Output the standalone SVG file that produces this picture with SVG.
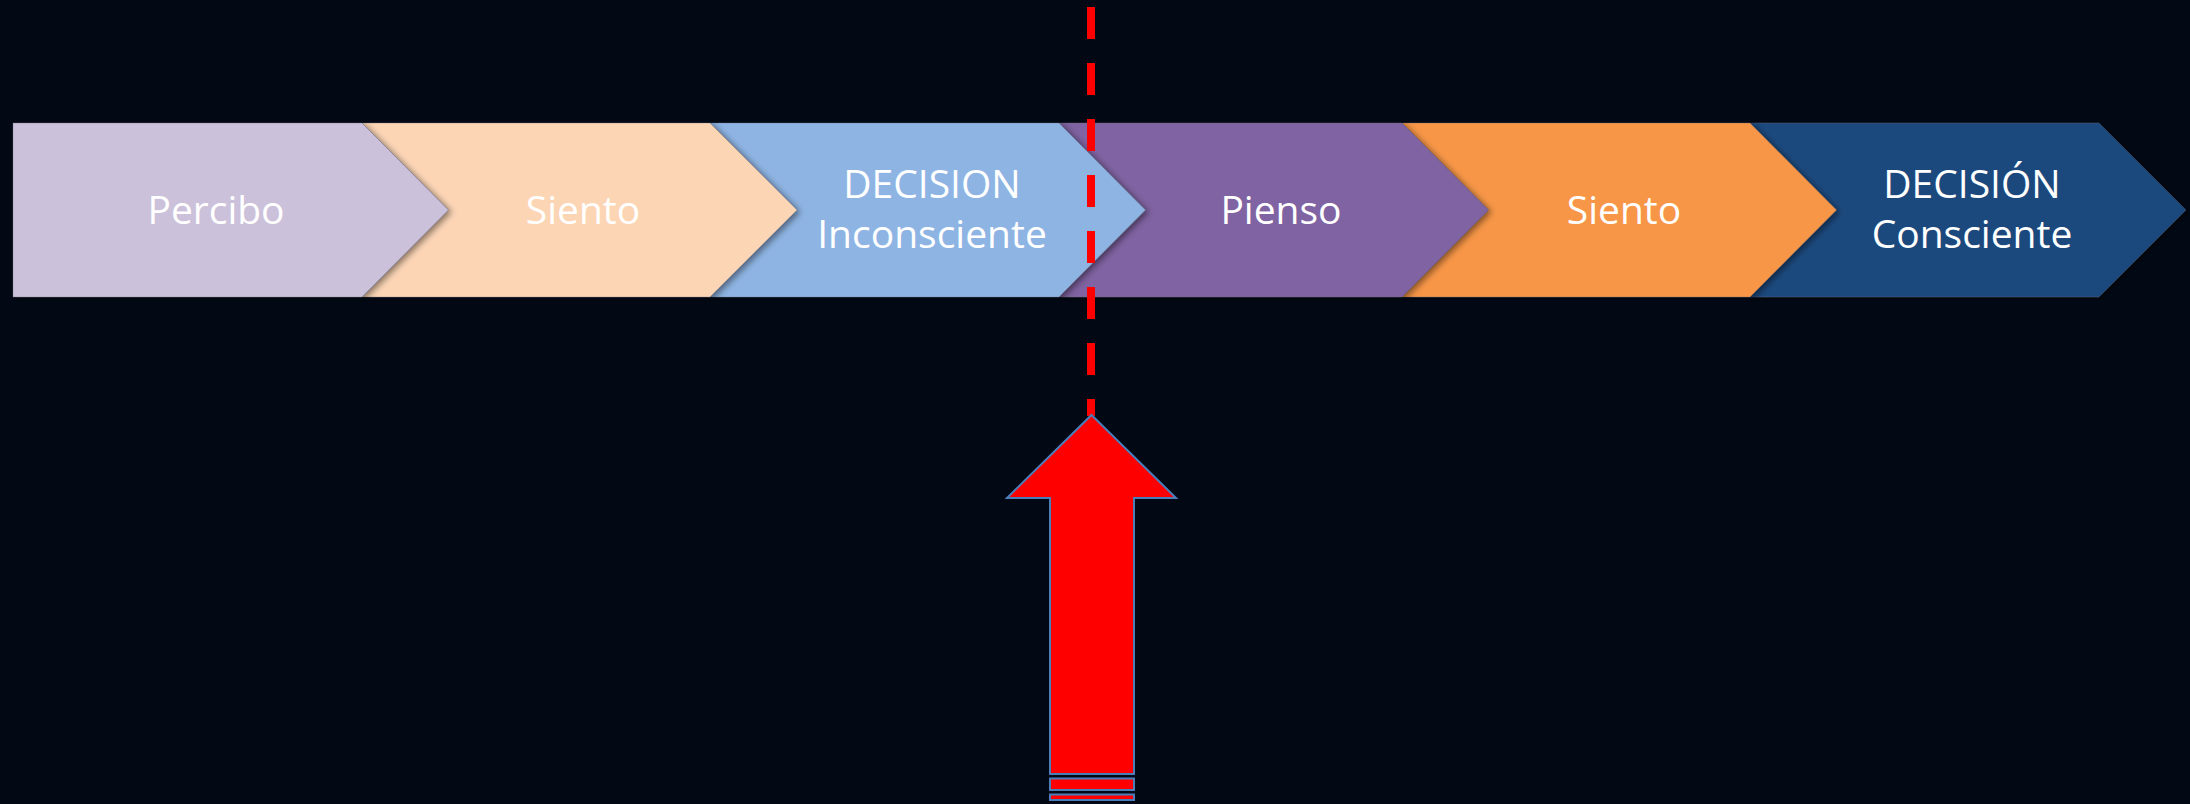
<svg xmlns="http://www.w3.org/2000/svg" width="2190" height="804" viewBox="0 0 2190 804">
<defs>
<filter id="sh" x="-5%" y="-10%" width="115%" height="130%">
<feDropShadow dx="3" dy="2" stdDeviation="3" flood-color="#000" flood-opacity="0.45"/>
</filter>
<style>
.chev{stroke:#6a6a80;stroke-width:0.6;stroke-opacity:0.5;filter:url(#sh)}
.lbl{font-family:"Open Sans","Noto Sans","Liberation Sans",sans-serif;font-size:39px;fill:#ffffff;text-anchor:middle}
.dash{stroke:#ff0000;stroke-width:8;stroke-dasharray:32 24}
.arrow{fill:#ff0000;stroke:#4a7ebb;stroke-width:2}
</style>
</defs>
<rect width="2190" height="804" fill="#020915"/>
<g id="chevron-6">
<polygon class="chev" fill="#1f497d" points="1750,123 2099,123 2186,210 2099,297 1750,297 1836.5,210"/>
<text class="lbl" x="1972" y="198">DECISIÓN</text>
<text class="lbl" x="1972" y="248">Consciente</text>
</g>
<g id="chevron-5">
<polygon class="chev" fill="#f79646" points="1402,123 1750,123 1836.5,210 1750,297 1402,297 1488.5,210"/>
<text class="lbl" x="1624" y="224">Siento</text>
</g>
<g id="chevron-4">
<polygon class="chev" fill="#8064a2" points="1059,123 1402,123 1488.5,210 1402,297 1059,297 1145.5,210"/>
<text class="lbl" x="1281" y="224">Pienso</text>
</g>
<g id="chevron-3">
<polygon class="chev" fill="#8eb4e3" points="710,123 1059,123 1145.5,210 1059,297 710,297 796.5,210"/>
<text class="lbl" x="932" y="198">DECISION</text>
<text class="lbl" x="932" y="248">Inconsciente</text>
</g>
<g id="chevron-2">
<polygon class="chev" fill="#fcd5b5" points="362,123 710,123 797,210 710,297 362,297 448.5,210"/>
<text class="lbl" x="583" y="224">Siento</text>
</g>
<g id="chevron-1">
<polygon class="chev" fill="#ccc1da" points="13,123 362,123 448.5,210 362,297 13,297"/>
<text class="lbl" x="216" y="224">Percibo</text>
</g>
<g id="connectors">
<line class="dash" x1="1091" y1="7" x2="1091" y2="416"/>
</g>
<g id="up-arrow">
<polygon class="arrow" points="1091.5,415 1176,498 1134,498 1134,774 1050,774 1050,498 1007,498"/>
<rect class="arrow" x="1050" y="778.5" width="84" height="11.5"/>
<rect class="arrow" x="1050" y="794.5" width="84" height="5.5"/>
</g>
</svg>
